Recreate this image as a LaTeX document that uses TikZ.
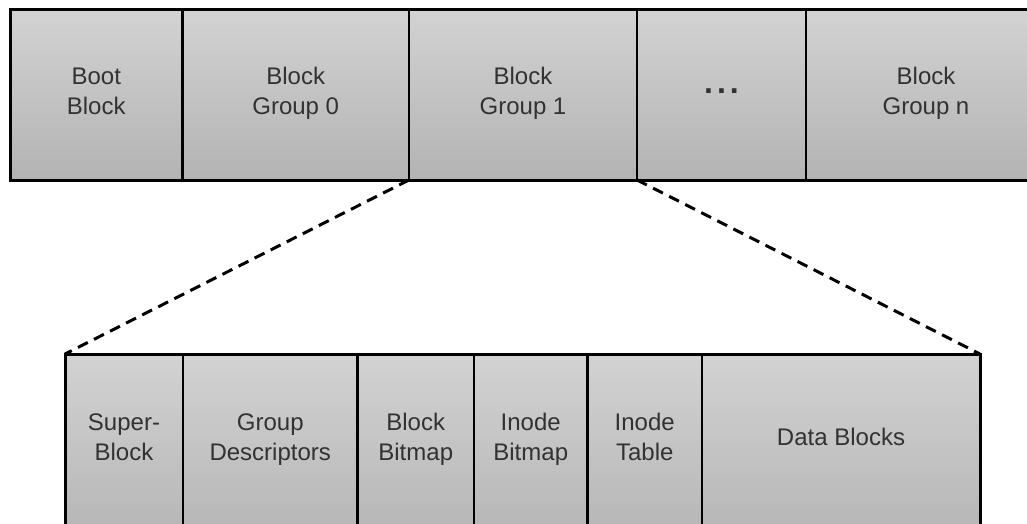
\documentclass[tikz,border=0pt]{standalone}
\usepackage{fontspec}
\setmainfont{Liberation Sans}
\definecolor{shadeLo}{RGB}{176,176,176}
\definecolor{shadeHi}{RGB}{226,226,226}
\definecolor{txt}{RGB}{50,50,50}
\pgfdeclareverticalshading{cellshade}{100bp}{color(0bp)=(shadeLo); color(20bp)=(shadeLo); color(100bp)=(shadeHi)}
\tikzset{
  cell/.style={draw=black, line width=2.5pt, shading=cellshade, rectangle, inner sep=0pt, outer sep=0pt, anchor=north west},
  lbl/.style={align=center, font=\fontsize{24}{30}\selectfont, text=txt, inner sep=0pt, text depth=0pt, text height=47pt},
  lblone/.style={lbl, text height=17pt},
  outline/.style={draw=black, line width=3pt},
  zoomline/.style={draw=black, line width=3pt, dash pattern=on 11pt off 7pt}
}
\begin{document}
\begin{tikzpicture}[x=1pt, y=-1pt]
\useasboundingbox (0,0) rectangle (1027,523);
% top row
\node[cell, minimum width=172.5pt, minimum height=170.5pt] (boot) at (10,9.5) {};
\node[cell, minimum width=226.5pt, minimum height=170.5pt] (bg0) at (182.5,9.5) {};
\node[cell, minimum width=228pt, minimum height=170.5pt] (bg1) at (409,9.5) {};
\node[cell, minimum width=169pt, minimum height=170.5pt] (dots) at (637,9.5) {};
\node[cell, minimum width=240pt, minimum height=170.5pt] (bgn) at (806,9.5) {};
\draw[outline] (boot.north west) rectangle (bgn.south east);
% bottom row
\node[cell, minimum width=118pt, minimum height=200pt] (sb) at (65,354) {};
\node[cell, minimum width=174.5pt, minimum height=200pt] (gd) at (183,354) {};
\node[cell, minimum width=116.5pt, minimum height=200pt] (bb) at (357.5,354) {};
\node[cell, minimum width=113.5pt, minimum height=200pt] (ib) at (474,354) {};
\node[cell, minimum width=114.5pt, minimum height=200pt] (it) at (587.5,354) {};
\node[cell, minimum width=278pt, minimum height=200pt] (db) at (702,354) {};
\draw[outline] (sb.south west) -- (sb.north west) -- (db.north east) -- (db.south east);
% labels top
\node[lbl] (tboot) at (boot.center |- 0,90.5) {Boot\\Block};
\node[lbl] (tbg0) at (bg0.center |- 0,90.5) {Block\\Group 0};
\node[lbl] (tbg1) at (bg1.center |- 0,90.5) {Block\\Group 1};
\node[lblone, font=\fontsize{32}{32}\selectfont\bfseries, text height=5pt] (tdots) at (dots.center |- 0,91) {.\hspace{4pt}.\hspace{4pt}.};
\node[lbl] (tbgn) at (bgn.center |- 0,90.5) {Block\\Group n};
% labels bottom
\node[lbl] (tsb) at (sb.center |- 0,436.5) {Super-\\Block};
\node[lbl] (tgd) at (gd.center |- 0,436.5) {Group\\Descriptors};
\node[lbl] (tbb) at (bb.center |- 0,436.5) {Block\\Bitmap};
\node[lbl] (tib) at (ib.center |- 0,436.5) {Inode\\Bitmap};
\node[lbl] (tit) at (it.center |- 0,436.5) {Inode\\Table};
\node[lblone] (tdb) at (db.center |- 0,436.5) {Data Blocks};
% zoom connectors
\draw[zoomline] (bg1.south west) -- (sb.north west);
\draw[zoomline] (bg1.south east) -- (db.north east);
\end{tikzpicture}
\end{document}
